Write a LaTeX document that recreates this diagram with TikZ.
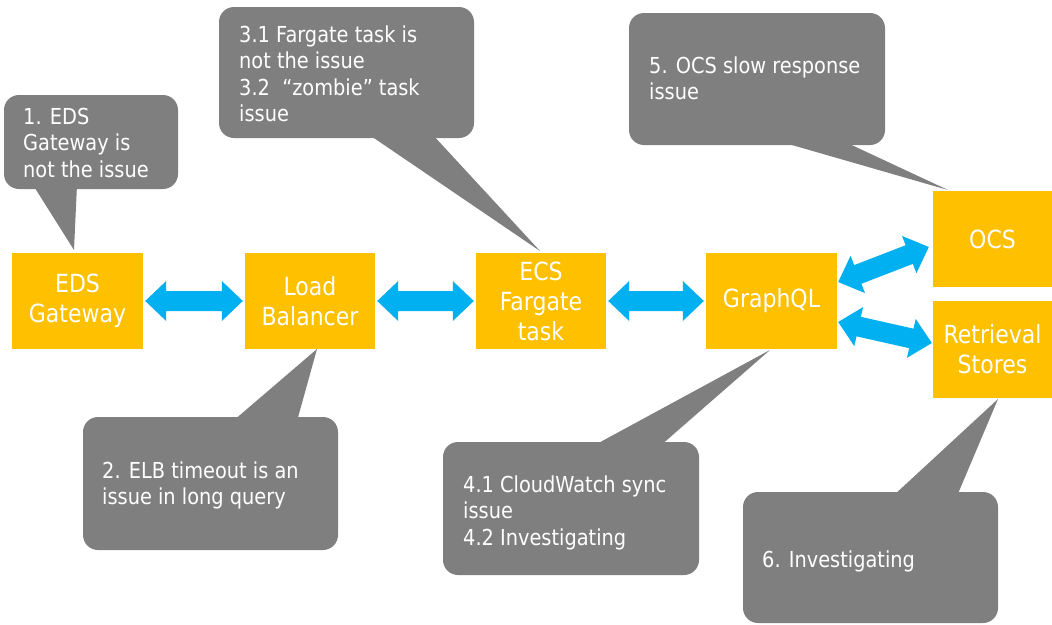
\documentclass[tikz,border=0pt]{standalone}
\usepackage{fontspec}
\setmainfont{DejaVu Sans}[FakeStretch=0.88]
\usetikzlibrary{calc}
\definecolor{boxorange}{HTML}{FFC000}
\definecolor{arrowblue}{HTML}{00B0F0}
\definecolor{calloutgray}{HTML}{7F7F7F}
\newcommand\callstrut{\rule{0pt}{18pt}}
\newcommand\blockarrow[2]{%
  \path (#1) coordinate (p0) (#2) coordinate (q0);
  \path ($(p0)!21pt!(q0)$) coordinate (p1) ($(q0)!21pt!(p0)$) coordinate (q1);
  \fill[arrowblue] (p0) -- ($(p1)!20pt!90:(q0)$) -- ($(p1)!10pt!90:(q0)$)
    -- ($(q1)!10pt!-90:(p0)$) -- ($(q1)!20pt!-90:(p0)$) -- (q0)
    -- ($(q1)!20pt!90:(p0)$) -- ($(q1)!10pt!90:(p0)$)
    -- ($(p1)!10pt!-90:(q0)$) -- ($(p1)!20pt!-90:(q0)$) -- cycle;}
\begin{document}
\begin{tikzpicture}[x=1pt,y=-1pt,
  compbox/.style={fill=boxorange, text=white, minimum width=131pt, minimum height=96pt,
    inner sep=0pt, align=center, font=\fontsize{25}{30}\selectfont},
  bubble/.style={fill=calloutgray, rounded corners=15pt, inner sep=0pt},
  bubbletext/.style={text=white, anchor=north west, inner sep=0pt, align=left,
    font=\fontsize{22}{26.5}\selectfont},
  pointer/.style={fill=calloutgray}]
\useasboundingbox (0,0) rectangle (1052,624);

% components
\node[compbox] (eds) at (77.5,301) {EDS\\Gateway};
\node[compbox, minimum width=130pt] (lb) at (310,301) {Load\\Balancer};
\node[compbox, minimum width=130pt] (ecs) at (541,301) {ECS\\Fargate\\task};
\node[compbox] (gql) at (771.5,301) {GraphQL};
\node[compbox, minimum width=119pt] (ocs) at (992.5,239) {OCS};
\node[compbox, minimum width=119pt, minimum height=97pt] (ret) at (992.5,349.5) {Retrieval\\Stores};

% connectors
\blockarrow{[xshift=2pt]eds.east}{[xshift=-2pt]lb.west}
\blockarrow{[xshift=2pt]lb.east}{[xshift=-2pt]ecs.west}
\blockarrow{[xshift=2pt]ecs.east}{[xshift=-2pt]gql.west}
\blockarrow{[xshift=1pt,yshift=19pt]gql.east}{[xshift=-4pt,yshift=-8pt]ocs.west}
\blockarrow{[xshift=1pt,yshift=-21pt]gql.east}{[xshift=-1pt,yshift=6.5pt]ret.west}

% callout tips
\coordinate (tip1) at (74,250);
\coordinate (tip2) at (317,349);
\coordinate (tip3) at (540,251);
\coordinate (tip4) at (770,350);
\coordinate (tip5) at (948,190);
\coordinate (tip6) at (998,399);

% callouts
\fill[pointer] (33,185) -- (77,185) -- (tip1) -- cycle;
\node[bubble, minimum width=174pt, minimum height=94pt] (b1) at (91,142) {};
\node[bubbletext] (t1) at (23,106) {\callstrut 1. EDS\\Gateway is\\not the issue};

\fill[pointer] (233,421) -- (297,421) -- (tip2) -- cycle;
\node[bubble, minimum width=255pt, minimum height=133pt] (b2) at (210.5,483.5) {};
\node[bubbletext] (t2) at (102,460) {\callstrut 2. ELB timeout is an\\issue in long query};

\fill[pointer] (368,134) -- (432,134) -- (tip3) -- cycle;
\node[bubble, minimum width=255pt, minimum height=131pt] (b3) at (346.5,72.5) {};
\node[bubbletext] (t3) at (239,24) {\callstrut 3.1 Fargate task is\\not the issue\\3.2\ \ “zombie” task\\issue};

\fill[pointer] (593,446) -- (660,446) -- (tip4) -- cycle;
\node[bubble, minimum width=256pt, minimum height=133pt] (b4) at (571,508.5) {};
\node[bubbletext] (t4) at (463,474) {\callstrut 4.1 CloudWatch sync\\issue\\4.2 Investigating};

\fill[pointer] (778,141) -- (843,141) -- (tip5) -- cycle;
\node[bubble, minimum width=256pt, minimum height=132pt] (b5) at (757,79) {};
\node[bubbletext] (t5) at (649,55) {\callstrut 5. OCS slow response\\issue};

\fill[pointer] (893,496) -- (957,496) -- (tip6) -- cycle;
\node[bubble, minimum width=255pt, minimum height=131pt] (b6) at (870.5,557.5) {};
\node[bubbletext] (t6) at (762,549) {\callstrut 6. Investigating};
\end{tikzpicture}
\end{document}
